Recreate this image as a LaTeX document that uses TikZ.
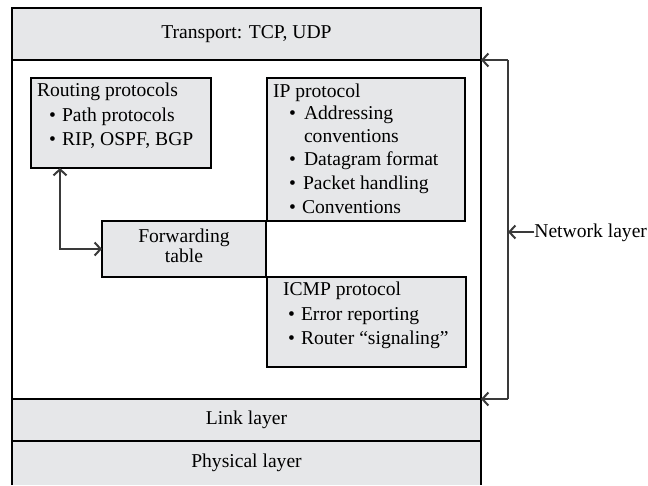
\documentclass[tikz,border=0pt]{standalone}
\usepackage{fontspec}
\setmainfont{Liberation Serif}
\usetikzlibrary{arrows.meta}
\definecolor{boxgray}{HTML}{E6E7E9}
\definecolor{wiregray}{HTML}{3A3A3A}
\tikzset{barb/.tip={Straight Barb[length=6pt,width=13pt,line width=2pt]}}
\begin{document}
\begin{tikzpicture}[x=1pt,y=-1pt,
  every node/.style={inner sep=0pt, outer sep=0pt, font=\fontsize{19.6}{24}\selectfont},
  layerbox/.style={draw=black, line width=2.6pt, fill=boxgray, anchor=north west, minimum width=469pt},
  protobox/.style={draw=black, line width=2.6pt, fill=boxgray, anchor=north west},
  txt/.style={anchor=base west},
  ctxt/.style={anchor=base},
  wire/.style={draw=wiregray, line width=2pt}]
\useasboundingbox (0,0) rectangle (648,485);

% protocol stack
\node[layerbox, minimum height=52pt] (transport) at (12,8) {Transport: TCP, UDP};
\node[layerbox, fill=white, minimum height=339pt] (network) at (12,60) {};
\node[layerbox, minimum height=42pt] (link) at (12,399) {Link layer};
\node[layerbox, draw=none, minimum height=44pt] (physical) at (12,441) {Physical layer};
\draw[black, line width=2.6pt] (physical.south west) -- (physical.north west)
  -- (physical.north east) -- (physical.south east);

% routing protocols
\node[protobox, minimum width=180pt, minimum height=90pt] (routing) at (31,78) {};
\node[txt] (rt0) at (37,96) {Routing protocols};
\node[txt] (rb1) at (49,121) {•};
\node[txt] (rt1) at (62,121) {Path protocols};
\node[txt] (rb2) at (49,145) {•};
\node[txt] (rt2) at (62,145) {RIP, OSPF, BGP};

% IP protocol
\node[protobox, minimum width=198pt, minimum height=143pt] (ip) at (267,78) {};
\node[txt] (ip0) at (273,97) {IP protocol};
\node[txt] (ipb1) at (289,119) {•};
\node[txt] (ip1) at (304,119) {Addressing};
\node[txt] (ip1b) at (304,142) {conventions};
\node[txt] (ipb2) at (289,165) {•};
\node[txt] (ip2) at (304,165) {Datagram format};
\node[txt] (ipb3) at (289,189) {•};
\node[txt] (ip3) at (303,189) {Packet handling};
\node[txt] (ipb4) at (289,213) {•};
\node[txt] (ip4) at (302,213) {Conventions};

% forwarding table
\node[protobox, minimum width=164pt, minimum height=56pt] (forwarding) at (102,221) {};
\node[ctxt] (fw1) at (184,242) {Forwarding};
\node[ctxt] (fw2) at (184,262) {table};

% ICMP protocol
\node[protobox, minimum width=199pt, minimum height=90pt] (icmp) at (267,277) {};
\node[txt] (ic0) at (283,295) {ICMP protocol};
\node[txt] (icb1) at (288,320) {•};
\node[txt] (ic1) at (301,320) {Error reporting};
\node[txt] (icb2) at (288,344) {•};
\node[txt] (ic2) at (301,344) {Router “signaling”};

% routing <-> forwarding
\coordinate (bend) at (60,249);
\draw[wire, {barb}-{barb}] (bend |- routing.south) -- (bend) -- (forwarding.west);

% network layer bracket
\coordinate (brk) at (508,232);
\draw[wire, -{barb}] (brk |- network.north) -- (network.north east);
\draw[wire, -{barb}] (brk |- network.south) -- (network.south east);
\draw[wire] (brk |- network.north) -- (brk |- network.south);
\node[txt, anchor=base east] (netlabel) at (647,237) {Network layer};
\draw[wire, -{barb}] (netlabel.west |- brk) -- (brk);
\end{tikzpicture}
\end{document}
